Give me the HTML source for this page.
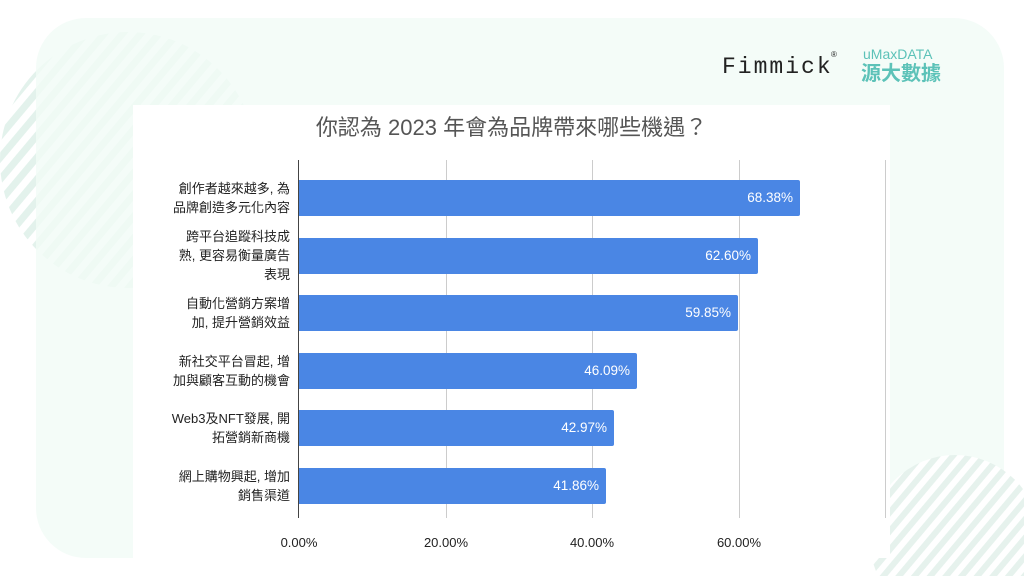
<!DOCTYPE html>
<html><head><meta charset="utf-8"><style>
html,body{margin:0;width:1024px;height:576px;overflow:hidden}
body{background:#fff;position:relative;font-family:"Liberation Sans","Noto Sans CJK TC",sans-serif}
.a{position:absolute}
.lbl{position:absolute;right:734px;width:160px;text-align:right;font-size:13px;line-height:19px;color:#222}
.bar{position:absolute;left:299px;height:36px;background:#4a86e4;border-radius:0 2px 2px 0}
.val{position:absolute;right:7px;top:10px;color:#fff;font-size:13.5px}
.g{position:absolute;top:160px;height:358px;width:1px;background:#ccc}
.t{position:absolute;top:535px;font-size:13px;color:#222;width:80px;text-align:center}
</style></head><body>
<svg class="a" style="left:0;top:0" width="1024" height="576">
<defs>
<pattern id="s" width="14" height="14" patternUnits="userSpaceOnUse" patternTransform="rotate(40)">
<rect width="14" height="14" fill="#fff"/><rect width="7" height="14" fill="#e3f2ec"/></pattern>
<pattern id="s2" width="12" height="12" patternUnits="userSpaceOnUse" patternTransform="rotate(40)">
<rect width="12" height="12" fill="#fff"/><rect width="6" height="12" fill="#e6f2ed"/></pattern>
</defs>
<circle cx="128" cy="160" r="128" fill="url(#s)"/>
<rect x="36" y="18" width="968" height="540" rx="50" fill="#f1fbf6" opacity="0.8"/>
<circle cx="955" cy="540" r="85" fill="url(#s2)"/>
</svg>
<div class="a" style="left:133px;top:105px;width:757px;height:453px;background:#fff"></div>
<div class="a" style="left:722px;top:54px;font-size:23px;line-height:26px;letter-spacing:2px;color:#222;font-family:'Liberation Mono',monospace">Fimmick</div>
<div class="a" style="left:831px;top:50px;font-size:8px;color:#222">®</div>
<div class="a" style="left:863px;top:46px;font-size:14px;line-height:16px;color:#5cc2b8">uMaxDATA</div>
<div class="a" style="left:861px;top:62px;font-size:20px;line-height:24px;font-weight:bold;color:#5cc2b8">源大數據</div>
<div class="a" style="left:133px;top:114px;width:757px;text-align:center;font-size:22px;line-height:28px;color:#555">你認為 2023 年會為品牌帶來哪些機遇？</div>
<div class="g" style="left:446px"></div><div class="g" style="left:592px"></div><div class="g" style="left:739px"></div><div class="g" style="left:885px"></div>
<div class="g" style="left:298px;background:#444"></div>
<div class="bar" style="top:180px;width:501px"><span class="val">68.38%</span></div>
<div class="bar" style="top:238px;width:459px"><span class="val">62.60%</span></div>
<div class="bar" style="top:295px;width:439px"><span class="val">59.85%</span></div>
<div class="bar" style="top:353px;width:338px"><span class="val">46.09%</span></div>
<div class="bar" style="top:410px;width:315px"><span class="val">42.97%</span></div>
<div class="bar" style="top:468px;width:307px"><span class="val">41.86%</span></div>
<div class="lbl" style="top:179px">創作者越來越多, 為<br>品牌創造多元化內容</div>
<div class="lbl" style="top:227px">跨平台追蹤科技成<br>熟, 更容易衡量廣告<br>表現</div>
<div class="lbl" style="top:294px">自動化營銷方案增<br>加, 提升營銷效益</div>
<div class="lbl" style="top:352px">新社交平台冒起, 增<br>加與顧客互動的機會</div>
<div class="lbl" style="top:409px">Web3及NFT發展, 開<br>拓營銷新商機</div>
<div class="lbl" style="top:467px">網上購物興起, 增加<br>銷售渠道</div>
<div class="t" style="left:259px">0.00%</div><div class="t" style="left:406px">20.00%</div><div class="t" style="left:552px">40.00%</div><div class="t" style="left:699px">60.00%</div>
</body></html>
